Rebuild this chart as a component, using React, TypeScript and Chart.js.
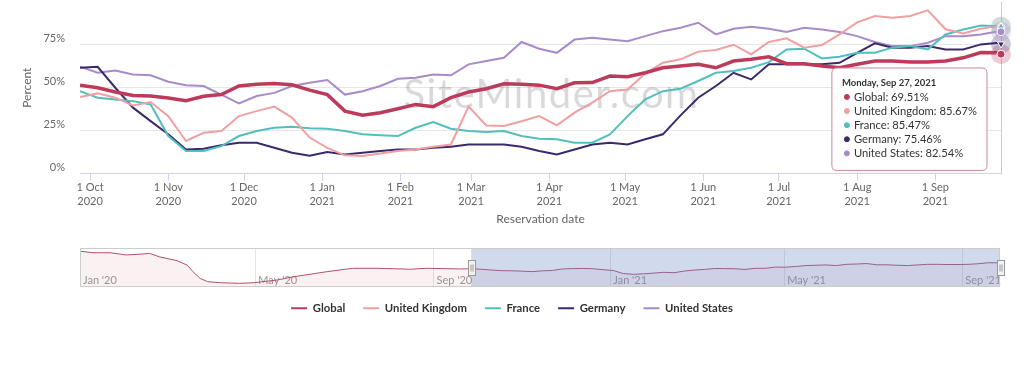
import React, { useEffect, useRef } from "react";
import { Chart, registerables, Tooltip } from "chart.js";

Chart.register(...registerables);

// Days since Sep 27, 2020 (reservation date)
const days = [0, 7, 14, 21, 28, 35, 42, 49, 56, 63, 70, 77, 84, 91, 98, 105, 112, 119, 126, 133, 140, 147, 154, 161, 168, 175, 182, 189, 196, 203, 210, 217, 224, 231, 238, 245, 252, 259, 266, 273, 280, 287, 294, 301, 308, 315, 322, 329, 336, 343, 350, 357, 364, 365];

const seriesNames = ["Global", "United Kingdom", "France", "Germany", "United States"];
const seriesColors = ["#bc3a5a", "#f0a0a0", "#52bfbd", "#3b2a6b", "#a88bc8"];

const globalValues = [51.5, 50, 47.5, 45.5, 45.2, 44, 42.5, 45, 46, 51, 52, 52.5, 51.7, 48.6, 46, 36.4, 34, 35.5, 37.8, 40.3, 39, 44.2, 47.5, 49.4, 52.3, 52, 51.5, 49.4, 52.9, 53, 56.8, 56.4, 58.7, 61.6, 62.6, 63.6, 61.6, 65.5, 66.5, 68, 64, 64, 62.6, 61.6, 63.6, 65.5, 65.5, 64.9, 64.9, 65.5, 67.4, 70.5, 70.3, 69.51];
const ukValues = [44.6, 46.7, 44.2, 39.7, 41.7, 33.5, 19, 23.8, 24.8, 33.5, 36.4, 39, 32.6, 21, 15, 10.7, 10.3, 11.8, 13.2, 14.1, 15.7, 17, 39, 28, 27.7, 30.5, 33.5, 28.1, 35.5, 41.3, 48, 49, 58.3, 64.5, 66.5, 71, 72, 75, 69.4, 76.6, 78.7, 73.3, 74.8, 81, 88, 91.7, 90.7, 91.7, 95, 84, 81.6, 84.3, 86, 85.67];
const franceValues = [48, 44.2, 43.2, 42.2, 40.3, 21.9, 13.2, 13.2, 16, 21.9, 24.8, 26.7, 27.3, 26.5, 26.2, 24.8, 22.9, 22.3, 21.9, 26.7, 30, 26.2, 24.8, 24.2, 24.8, 21.9, 20.3, 20, 18, 18, 22.9, 33.5, 43.2, 48, 49.4, 53.9, 58.7, 59.7, 61.6, 64.9, 72.3, 72.7, 67, 68, 70.3, 70.3, 73.3, 74.2, 72.3, 81, 83.9, 86.2, 85.8, 85.47];
const germanyValues = [61.6, 62.2, 50, 38.4, 30.6, 22.9, 14.1, 14.5, 16.5, 18, 18, 15.1, 12.2, 10.5, 12.6, 11.2, 12.2, 13.2, 14.1, 14.1, 15.1, 15.7, 17, 17, 17, 15.7, 13.2, 11.2, 14.1, 17, 18, 17, 20, 22.9, 33.9, 44.2, 51, 58.7, 54.8, 63.6, 63.6, 63.6, 63.6, 64.5, 70.3, 75.8, 73.3, 73.3, 74.2, 72.3, 72.3, 75.2, 76.2, 75.46];
const usValues = [62.2, 58.7, 60, 57.7, 57.2, 53.5, 51.4, 51, 46, 40.9, 45.2, 47, 51, 52.9, 54.5, 46, 48, 51, 55.2, 55.8, 57.7, 57.2, 63.6, 65.5, 67.4, 76.6, 72.7, 70.3, 78, 79, 78, 77.1, 80, 82.9, 84.9, 87.8, 81, 84.3, 85.5, 84.3, 82.4, 84.9, 83.9, 82.4, 80, 76.6, 74.2, 74.2, 76.2, 80, 80, 81, 82.9, 82.54];

const seriesValues = [globalValues, ukValues, franceValues, germanyValues, usValues];
const lineWidths = [3.5, 2, 2, 2, 2];
const hoverStyles = ["circle", "rectRot", "triangle", "triangle", "circle"];
const hoverRotations = [0, 0, 0, 180, 0];

// x-axis ticks (days since Sep 27, 2020)
const xTickDays = [4, 35, 65, 96, 127, 155, 186, 216, 247, 277, 308, 339];
const xTickMonths = ["1 Oct", "1 Nov", "1 Dec", "1 Jan", "1 Feb", "1 Mar", "1 Apr", "1 May", "1 Jun", "1 Jul", "1 Aug", "1 Sep"];
const xTickYears = ["2020", "2020", "2020", "2021", "2021", "2021", "2021", "2021", "2021", "2021", "2021", "2021"];
const yTicks = [0, 25, 50, 75];

// Navigator (days since Jan 1, 2020), Global series before the main period
const navPreDays = [0, 9, 21, 32, 43, 48, 55, 67, 74, 78, 83, 88, 97, 110, 120, 136, 147, 170, 188, 205, 228, 239, 262];
const navPreValues = [107, 102, 102, 95, 98, 100, 89, 77, 63, 42, 21, 11, 7.5, 5.6, 7.5, 16, 26, 42, 53, 53, 50, 53, 51];
const navOffset = 270; // Sep 27, 2020
const navMax = 635; // Sep 27, 2021
const navTickDays = [0, 121, 244, 366, 486, 609];
const navTickLabels = ["Jan '20", "May '20", "Sep '20", "Jan '21", "May '21", "Sep '21"];

const weekdays = ["Sunday", "Monday", "Tuesday", "Wednesday", "Thursday", "Friday", "Saturday"];
const monthsShort = ["Jan", "Feb", "Mar", "Apr", "May", "Jun", "Jul", "Aug", "Sep", "Oct", "Nov", "Dec"];
const startUTC = Date.UTC(2020, 8, 27);

function formatDay(d: number): string {
  const dt = new Date(startUTC + d * 86400000);
  return `${weekdays[dt.getUTCDay()]}, ${monthsShort[dt.getUTCMonth()]} ${dt.getUTCDate()}, ${dt.getUTCFullYear()}`;
}

function hexToRgba(hex: string, a: number) {
  const n = parseInt(hex.slice(1), 16);
  return `rgba(${(n >> 16) & 255},${(n >> 8) & 255},${n & 255},${a})`;
}

const mainPlugin = {
  id: "mainDecor",
  beforeDatasetsDraw(chart: any) {
    const { ctx, chartArea } = chart;
    ctx.save();
    ctx.font = "400 40px Lato, sans-serif";
    try {
      (ctx as any).letterSpacing = "1.5px";
    } catch (e) {}
    ctx.fillStyle = "rgba(0,0,0,0.15)";
    ctx.textAlign = "center";
    ctx.textBaseline = "middle";
    ctx.fillText("SiteMinder.com", chartArea.left + (chartArea.right - chartArea.left) * 0.512, chartArea.top + 93);
    ctx.restore();
    const act = chart.getActiveElements();
    if (act.length) {
      const x = Math.round(act[0].element.x) + 0.5;
      ctx.save();
      ctx.strokeStyle = "#cccccc";
      ctx.lineWidth = 1;
      ctx.beginPath();
      ctx.moveTo(x, chartArea.top);
      ctx.lineTo(x, chartArea.bottom);
      ctx.stroke();
      ctx.restore();
    }
  },
  afterDatasetsDraw(chart: any) {
    const { ctx } = chart;
    const act = chart.getActiveElements();
    act.forEach((a: any) => {
      ctx.save();
      ctx.fillStyle = hexToRgba(seriesColors[a.datasetIndex], 0.25);
      ctx.beginPath();
      ctx.arc(a.element.x, a.element.y, 10, 0, Math.PI * 2);
      ctx.fill();
      ctx.restore();
    });
    act.forEach((a: any) => a.element.draw(ctx, chart.chartArea));
  },
};

const navPlugin = {
  id: "navDecor",
  afterDraw(chart: any) {
    const { ctx, chartArea: a, scales } = chart;
    const x0 = scales.x.getPixelForValue(navOffset);
    const x1 = scales.x.getPixelForValue(navMax);
    ctx.save();
    ctx.fillStyle = "rgba(102,133,194,0.3)";
    ctx.fillRect(x0, a.top, x1 - x0, a.bottom - a.top);
    ctx.strokeStyle = "#cccccc";
    ctx.lineWidth = 1;
    ctx.strokeRect(a.left + 0.5, a.top + 0.5, a.right - a.left - 1, a.bottom - a.top - 1);
    const hy = (a.top + a.bottom) / 2;
    [x0, x1].forEach((hx: number) => {
      const w = 7;
      const h = 15;
      const left = Math.round(hx - w / 2) + 0.5;
      const top = Math.round(hy - h / 2) + 0.5;
      ctx.fillStyle = "#f2f2f2";
      ctx.strokeStyle = "#999999";
      ctx.fillRect(left, top, w, h);
      ctx.strokeRect(left, top, w, h);
      ctx.beginPath();
      ctx.moveTo(left + 2.5, top + 4);
      ctx.lineTo(left + 2.5, top + h - 4);
      ctx.moveTo(left + 4.5, top + 4);
      ctx.lineTo(left + 4.5, top + h - 4);
      ctx.stroke();
    });
    ctx.restore();
  },
};

export default function App() {
  const mainRef = useRef<HTMLCanvasElement>(null);
  const navRef = useRef<HTMLCanvasElement>(null);

  useEffect(() => {
    Chart.defaults.font.family = "Lato, 'Open Sans', sans-serif";
    Chart.defaults.color = "#666";
    (Tooltip.positioners as any).lastPoint = function (elements: any[]) {
      if (!elements.length) return false;
      const el = elements[0].element;
      return { x: el.x - 19, y: el.y + 15 };
    };

    const main = new Chart(mainRef.current as HTMLCanvasElement, {
      type: "line",
      data: {
        datasets: seriesNames.map((name, i) => ({
          label: name,
          data: days.map((d, k) => ({ x: d, y: seriesValues[i][k] })),
          borderColor: seriesColors[i],
          backgroundColor: seriesColors[i],
          borderWidth: lineWidths[i],
          pointRadius: 0,
          pointHoverRadius: 4,
          pointHoverBorderWidth: 1,
          pointHoverBorderColor: "#ffffff",
          pointHoverBackgroundColor: seriesColors[i],
          pointStyle: hoverStyles[i] as any,
          pointRotation: hoverRotations[i],
          tension: 0,
          fill: false,
        })),
      },
      options: {
        responsive: false,
        animation: false,
        events: [],
        layout: { padding: 0 },
        scales: {
          x: {
            type: "linear",
            min: 0,
            max: 365,
            afterBuildTicks: (s: any) => {
              s.ticks = xTickDays.map((v) => ({ value: v }));
            },
            afterFit: (s: any) => {
              s.height = 111;
              s.paddingLeft = 0;
              s.paddingRight = 0;
            },
            grid: { drawOnChartArea: false, drawTicks: true, tickLength: 7, color: "#ccd6eb" },
            border: { display: true, color: "#ccd6eb" },
            ticks: {
              autoSkip: false,
              maxRotation: 0,
              padding: 0,
              color: "#666",
              font: { size: 11, lineHeight: 1.25 },
              callback: (_v: any, i: number) => [xTickMonths[i], xTickYears[i]],
            },
            title: { display: true, text: "Reservation date", color: "#666", font: { size: 12 }, padding: { top: 0, bottom: 58 } },
          },
          y: {
            min: 0,
            max: 100,
            afterBuildTicks: (s: any) => {
              s.ticks = yTicks.map((v) => ({ value: v }));
            },
            afterFit: (s: any) => {
              s.width = 80;
              s.paddingTop = 0;
              s.paddingBottom = 0;
            },
            grid: {
              color: (c: any) => (c.tick && c.tick.value === 0 ? "rgba(0,0,0,0)" : "#e6e6e6"),
              drawTicks: false,
            },
            border: { display: false },
            ticks: { padding: 15, labelOffset: -6, color: "#666", font: { size: 11 }, callback: (v: any) => v + "%" },
            title: { display: true, text: "Percent", color: "#666", font: { size: 12 }, padding: { top: 20, bottom: 0 } },
          },
          yRight: {
            position: "right",
            display: true,
            min: 0,
            max: 1,
            grid: { display: false, drawTicks: false },
            border: { display: false },
            ticks: { display: false },
            afterFit: (s: any) => {
              s.width = 23;
              s.paddingTop = 0;
              s.paddingBottom = 0;
            },
          },
        },
        plugins: {
          legend: {
            display: true,
            position: "bottom",
            align: "center",
            labels: {
              boxWidth: 16,
              boxHeight: 2,
              padding: 18,
              color: "#333",
              font: { size: 11.3, weight: "bold" },
              generateLabels: (chart: any) =>
                chart.data.datasets.map((ds: any, i: number) => ({
                  text: ds.label,
                  fillStyle: ds.borderColor,
                  strokeStyle: ds.borderColor,
                  lineWidth: 0,
                  hidden: false,
                  datasetIndex: i,
                  fontColor: "#333",
                })),
            },
          },
          tooltip: {
            enabled: true,
            mode: "index",
            intersect: false,
            position: "lastPoint" as any,
            xAlign: "right",
            yAlign: "top",
            backgroundColor: "rgba(255,255,255,0.92)",
            borderColor: "#c6899a",
            borderWidth: 1,
            cornerRadius: 5,
            caretSize: 0,
            caretPadding: 0,
            padding: { left: 10, right: 10, top: 9, bottom: 10 },
            titleColor: "#333",
            titleFont: { size: 9.5, weight: "bold", lineHeight: 1.2 },
            titleMarginBottom: 1.5,
            bodyColor: "#333",
            bodyFont: { size: 11.2, lineHeight: 1.26 },
            bodySpacing: 0,
            usePointStyle: true,
            boxWidth: 10,
            boxHeight: 5,
            boxPadding: 0,
            callbacks: {
              title: (items: any[]) => formatDay(items[0].parsed.x),
              label: (item: any) => `${item.dataset.label}: ${item.parsed.y.toFixed(2)}%`,
              labelColor: (item: any) => ({ borderColor: seriesColors[item.datasetIndex], backgroundColor: seriesColors[item.datasetIndex] }),
              labelPointStyle: () => ({ pointStyle: "circle", rotation: 0 }),
            },
          },
        },
      } as any,
      plugins: [mainPlugin],
    });

    const last = days.length - 1;
    const active = seriesNames.map((_, i) => ({ datasetIndex: i, index: last }));
    main.setActiveElements(active);
    main.tooltip!.setActiveElements(active, { x: 0, y: 0 });
    main.update();

    const navDays = [...navPreDays, ...days.map((d) => d + navOffset)];
    const navValues = [...navPreValues, ...globalValues];

    const nav = new Chart(navRef.current as HTMLCanvasElement, {
      type: "line",
      data: {
        datasets: [
          {
            label: "Global",
            data: navDays.map((d, k) => ({ x: d, y: navValues[k] })),
            borderColor: "#b0506a",
            borderWidth: 1,
            backgroundColor: "rgba(188,58,90,0.07)",
            fill: "start",
            pointRadius: 0,
            tension: 0,
          },
        ],
      },
      options: {
        responsive: false,
        animation: false,
        events: [],
        layout: { padding: { left: 80, right: 24, top: 8, bottom: 13 } },
        scales: {
          x: {
            type: "linear",
            min: 0,
            max: navMax,
            afterBuildTicks: (s: any) => {
              s.ticks = navTickDays.map((v) => ({ value: v }));
            },
            afterFit: (s: any) => {
              s.height = 0;
              s.paddingLeft = 0;
              s.paddingRight = 0;
            },
            grid: { color: "#e6e6e6", drawTicks: false, drawOnChartArea: true },
            border: { display: false },
            ticks: {
              autoSkip: false,
              maxRotation: 0,
              mirror: true,
              align: "start",
              labelOffset: 3,
              padding: 0,
              color: "#999",
              font: { size: 11 },
              callback: (_v: any, i: number) => navTickLabels[i],
            },
          },
          y: { display: false, min: -6, max: 117 },
        },
        plugins: { legend: { display: false }, tooltip: { enabled: false } },
      } as any,
      plugins: [navPlugin],
    });

    return () => {
      main.destroy();
      nav.destroy();
    };
  }, []);

  return (
    <div style={{ position: "absolute", left: 0, top: 0, width: 1024, height: 377, background: "#ffffff", overflow: "hidden" }}>
      <canvas ref={mainRef} width={1024} height={324} style={{ position: "absolute", left: 0, top: 0, width: 1024, height: 324 }} />
      <canvas ref={navRef} width={1024} height={60} style={{ position: "absolute", left: 0, top: 240, width: 1024, height: 60 }} />
    </div>
  );
}
